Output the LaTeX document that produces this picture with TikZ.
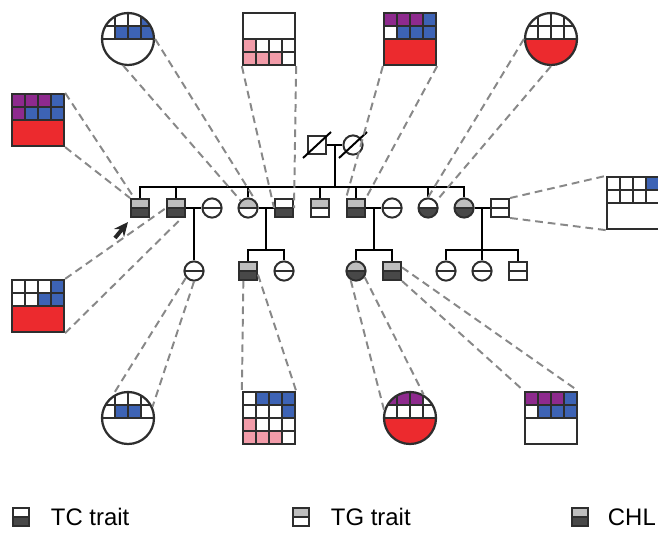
\documentclass[tikz,border=0pt]{standalone}
\usepackage{fontspec}
\setmainfont{Liberation Sans}
\usetikzlibrary{positioning}
\usetikzlibrary{calc}
\usetikzlibrary{arrows.meta}

\definecolor{edge}{HTML}{2E2E2E}
\definecolor{lgray}{HTML}{BEBEBE}
\definecolor{dgray}{HTML}{484848}
\definecolor{dashgray}{HTML}{888888}
\definecolor{cPu}{HTML}{8E2A8E}
\definecolor{cBl}{HTML}{3D63B5}
\definecolor{cRd}{HTML}{EC2A2E}
\definecolor{cPk}{HTML}{F29CA9}

% one row of four cells inside an icon, row #1, colours #2
\newcommand{\cellrow}[2]{%
  \foreach \cl [count=\i from 0] in {#2}
    \filldraw[fill=\cl, draw=edge, line width=1.1pt]
      ([shift={(13*\i,13*#1)}]path picture bounding box.north west) rectangle ++(13,13);}
% two merged rows, starting at row #1
\newcommand{\cellblock}[2]{%
  \filldraw[fill=#2, draw=edge, line width=1.1pt]
    ([shift={(0,13*#1)}]path picture bounding box.north west) rectangle
    ([shift={(0,13*#1+26)}]path picture bounding box.north east);}

\begin{document}
\begin{tikzpicture}[x=0.025cm, y=-0.025cm, node distance=0.9cm, line width=1.4pt,
    male/.style = {draw=edge, rectangle, minimum size=0.45cm, inner sep=0pt},
    female/.style = {draw=edge, circle, minimum size=0.48cm, inner sep=0pt},
    halves/.style 2 args = {path picture={
        \fill[#1] (path picture bounding box.north west) rectangle (path picture bounding box.east);
        \fill[#2] (path picture bounding box.west) rectangle (path picture bounding box.south east);
        \draw[edge] (path picture bounding box.west) -- (path picture bounding box.east);}},
    chl/.style = {halves={lgray}{dgray}},
    tc/.style = {halves={white}{dgray}},
    tg/.style = {halves={lgray}{white}},
    nor/.style = {halves={white}{white}},
    icsq/.style = {draw=edge, rectangle, minimum size=1.3cm, inner sep=0pt, line width=1.6pt},
    iccirc/.style = {draw=edge, circle, minimum size=1.3cm, inner sep=0pt, line width=1.6pt},
    cells/.style n args = {3}{path picture={\cellrow{0}{#1}\cellrow{1}{#2}\cellblock{2}{#3}}},
    zoomln/.style = {draw=dashgray, line width=1.4pt, dash pattern=on 5.5pt off 3.5pt},
    legtext/.style = {font=\fontsize{17}{20}\selectfont, inner sep=0pt}]
    \useasboundingbox (0,0) rectangle (658,533);

    % generation I
    \node[male] (m0) at (317,145) {};
    \node[female] (f0) [right of=m0] {};
    % generation II
    \node[male, chl] (a1) at (140,208) {};
    \node[male, chl] (a2) [right of=a1] {};
    \node[female, nor] (a3) [right of=a2] {};
    \node[female, tg] (a4) [right of=a3] {};
    \node[male, tc] (a5) [right of=a4] {};
    \node[male, tg] (a6) [right of=a5] {};
    \node[male, chl] (a7) [right of=a6] {};
    \node[female, nor] (a8) [right of=a7] {};
    \node[female, tc] (a9) [right of=a8] {};
    \node[female, chl] (a10) [right of=a9] {};
    \node[male, nor] (a11) [right of=a10] {};
    % generation III
    \node[female, nor] (b1) at (194,271) {};
    \node[male, chl] (b2) at (248,271) {};
    \node[female, nor] (b3) [right of=b2] {};
    \node[female, chl] (b4) at (356,271) {};
    \node[male, chl] (b5) [right of=b4] {};
    \node[female, nor] (b6) at (446,271) {};
    \node[female, nor] (b7) [right of=b6] {};
    \node[male, nor] (b8) [right of=b7] {};

    \draw ([shift={(-14,13)}]m0.center) -- ([shift={(14,-13)}]m0.center);
    \draw ([shift={(-14,13)}]f0.center) -- ([shift={(14,-13)}]f0.center);

    \coordinate (g2) at (0,187);
    \coordinate (g3) at (0,250);
    \coordinate (c1) at ($(m0)!0.5!(f0)$);
    \coordinate (c2) at ($(a2)!0.5!(a3)$);
    \coordinate (c3) at ($(a4)!0.5!(a5)$);
    \coordinate (c4) at ($(a7)!0.5!(a8)$);
    \coordinate (c5) at ($(a10)!0.5!(a11)$);
    \draw (m0) -- (f0);
    \draw (c1) -- (c1 |- g2);
    \draw (a1.north) |- (a10.north |- g2) -- (a10.north);
    \foreach \n in {a2,a4,a6,a7,a9}
        \draw (\n.north) -- (\n.north |- g2);
    \draw (a2) -- (a3);
    \draw (a4) -- (a5);
    \draw (a7) -- (a8);
    \draw (a10) -- (a11);
    \draw (c2) -- (c2 |- b1.north);
    \draw (c3) -- (c3 |- g3);
    \draw (b2.north) |- (b3.north |- g3) -- (b3.north);
    \draw (c4) -- (c4 |- g3);
    \draw (b4.north) |- (b5.north |- g3) -- (b5.north);
    \draw (c5) -- (c5 |- g3);
    \draw (b6.north) |- (b8.north |- g3) -- (b8.north);
    \draw (b7.north) -- (b7.north |- g3);

    % proband
    \coordinate (pa) at (115,238);
    \draw[-{Stealth[length=10pt, width=9pt]}, line width=2.8pt, black!85] (pa) -- ([shift={(-2,4)}]a1.south west);

    % zoomed cells
    \node[iccirc, cells={white,white,white,cBl}{white,cBl,cBl,cBl}{white}] (icA) at (128,39) {};
    \node[icsq, path picture={\cellblock{0}{white}\cellrow{2}{cPk,white,white,white}\cellrow{3}{cPk,cPk,cPk,white}}] (icB) at (269,39) {};
    \node[icsq, cells={cPu,cPu,cPu,cBl}{white,cBl,cBl,cBl}{cRd}] (icC) at (410,39) {};
    \node[iccirc, cells={white,white,white,white}{white,white,white,white}{cRd}] (icD) at (551,39) {};
    \node[icsq, cells={cPu,cPu,cPu,cBl}{cPu,cBl,cBl,cBl}{cRd}] (icE) at (38,120) {};
    \node[icsq, cells={white,white,white,cBl}{white,white,cBl,cBl}{cRd}] (icF) at (38,306) {};
    \node[icsq, cells={white,white,white,cBl}{white,white,white,white}{white}] (icG) at (633,203) {};
    \node[iccirc, cells={white,white,white,white}{white,cBl,cBl,white}{white}] (icH) at (128,418) {};
    \node[icsq, path picture={\cellrow{0}{white,cBl,cBl,cBl}\cellrow{1}{white,white,white,cBl}\cellrow{2}{cPk,white,white,white}\cellrow{3}{cPk,cPk,cPk,white}}] (icI) at (269,418) {};
    \node[iccirc, cells={cPu,cPu,cPu,white}{white,white,white,white}{cRd}] (icJ) at (410,418) {};
    \node[icsq, cells={cPu,cPu,cPu,cBl}{white,cBl,cBl,cBl}{white}] (icK) at (551,418) {};

    \draw[zoomln] (icE.north east) -- (a1.120);
    \draw[zoomln] (icE.south east) -- (a1.north west);
    \draw[zoomln] (icF.north east) -- (a2.west);
    \draw[zoomln] (icF.south east) -- (a2.-60);
    \draw[zoomln] (icA.-100) -- (a4.135);
    \draw[zoomln] (icA.0) -- (a4.45);
    \draw[zoomln] (icB.south west) -- (a5.west);
    \draw[zoomln] (icB.south east) -- (a5.east);
    \draw[zoomln] (icC.south west) -- (a7.north west);
    \draw[zoomln] (icC.south east) -- (a7.north east);
    \draw[zoomln] (icD.180) -- (a9.north);
    \draw[zoomln] (icD.-90) -- (a9.40);
    \draw[zoomln] (a11.north east) -- (icG.north west);
    \draw[zoomln] (a11.south east) -- (icG.south west);
    \draw[zoomln] (b1.220) -- (icH.125);
    \draw[zoomln] (b1.south) -- (icH.25);
    \draw[zoomln] (b2.-115) -- (icI.north west);
    \draw[zoomln] (b2.-20) -- (icI.north east);
    \draw[zoomln] (b4.-120) -- (icJ.163);
    \draw[zoomln] (b4.-35) -- (icJ.60);
    \draw[zoomln] (b5.20) -- (icK.north east);
    \draw[zoomln] (b5.south east) -- (icK.north west);

    % key
    \node[male, tc, minimum width=0.4cm, minimum height=0.45cm] (k1) at (21,517) {};
    \node[legtext, right=0.5cm of k1] (t1) {TC trait};
    \node[male, tg, minimum width=0.4cm, minimum height=0.45cm] (k2) at (301,517) {};
    \node[legtext, right=0.5cm of k2] (t2) {TG trait};
    \node[male, chl, minimum width=0.4cm, minimum height=0.45cm] (k3) at (580,517) {};
    \node[legtext, right=0.45cm of k3] (t3) {CHL};
\end{tikzpicture}
\end{document}
